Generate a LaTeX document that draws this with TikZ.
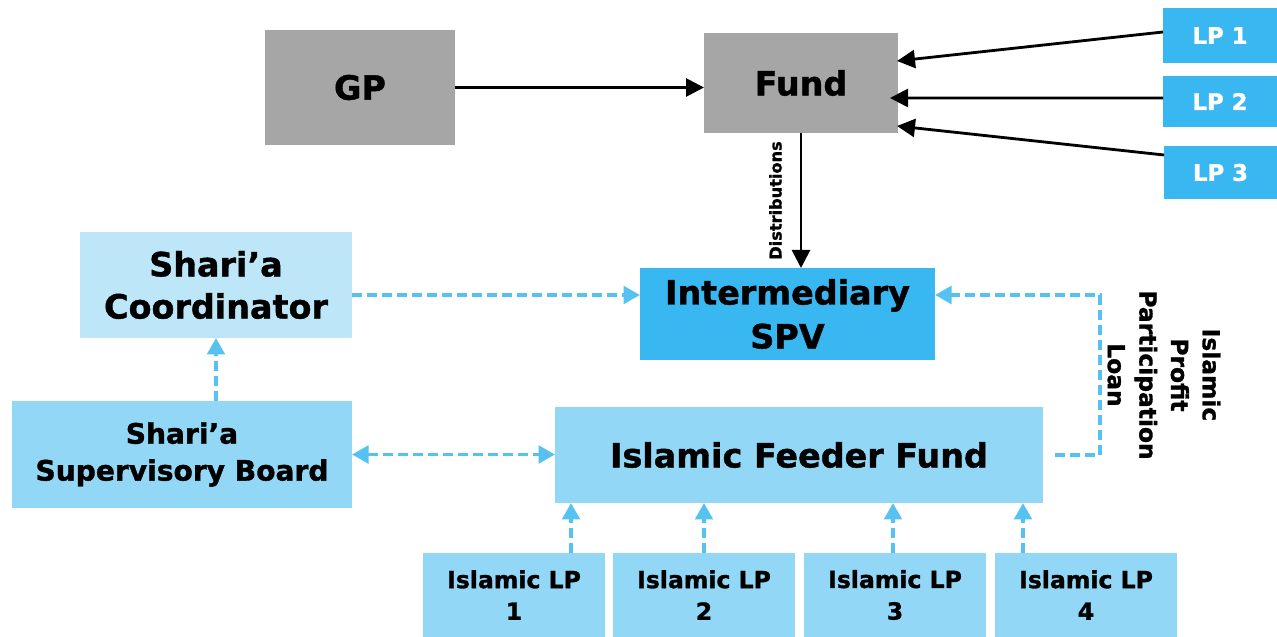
\documentclass[tikz,border=0pt]{standalone}
\usepackage{fontspec}
\setmainfont[BoldFeatures={FakeBold=1.2}]{DejaVu Sans}
\usetikzlibrary{arrows.meta}

\definecolor{boxgray}{HTML}{A6A6A6}
\definecolor{deepblue}{HTML}{38B7F0}
\definecolor{paleblue}{HTML}{BDE7F8}
\definecolor{midblue}{HTML}{92D8F6}
\definecolor{linkblue}{HTML}{56C2F2}

\begin{document}
\begin{tikzpicture}[
		box/.style={inner sep=0pt, outer sep=0pt, align=center, font=\bfseries},
		flow/.style={line width=1.6pt, -{Triangle[length=0.36cm, width=0.36cm]}},
		link/.style={line width=2.2pt, linkblue, dash pattern=on 0.2cm off 0.1cm,
			-{Triangle[length=0.33cm, width=0.35cm]}}
	]
		\useasboundingbox (0,0) rectangle (25.54,-12.74);

		\node[box, fill=boxgray, minimum width=3.8cm, minimum height=2.3cm,
			font=\bfseries\fontsize{19}{23}\selectfont] (gp) at (7.2,-1.75) {GP};
		\node[box, fill=boxgray, minimum width=3.88cm, minimum height=2cm,
			font=\bfseries\fontsize{19}{23}\selectfont] (fund) at (16.02,-1.66) {Fund};

		\node[box, fill=deepblue, text=white, minimum width=2.28cm, minimum height=1.1cm,
			font=\bfseries\fontsize{13}{16}\selectfont] (lpa) at (24.4,-0.71) {LP 1};
		\node[box, fill=deepblue, text=white, minimum width=2.28cm, minimum height=1.02cm,
			font=\bfseries\fontsize{13}{16}\selectfont] (lpb) at (24.4,-2.03) {LP 2};
		\node[box, fill=deepblue, text=white, minimum width=2.26cm, minimum height=1.06cm,
			font=\bfseries\fontsize{13}{16}\selectfont] (lpc) at (24.41,-3.45) {LP 3};

		\node[box, fill=paleblue, minimum width=5.44cm, minimum height=2.12cm,
			font=\bfseries\fontsize{19}{24}\selectfont] (coord) at (4.32,-5.7) {Shari’a\\Coordinator};
		\node[box, fill=deepblue, minimum width=5.9cm, minimum height=1.84cm,
			font=\bfseries\fontsize{19}{25}\selectfont] (spv) at (15.75,-6.28) {Intermediary\\SPV};

		\node[box, fill=midblue, minimum width=6.8cm, minimum height=2.14cm,
			font=\bfseries\fontsize{16}{21}\selectfont] (board) at (3.64,-9.09) {Shari’a\\Supervisory Board};
		\node[box, fill=midblue, minimum width=9.76cm, minimum height=1.92cm,
			font=\bfseries\fontsize{19}{23}\selectfont] (feeder) at (15.98,-9.1) {Islamic Feeder Fund};

		\node[box, fill=midblue, minimum width=3.64cm, minimum height=1.68cm,
			font=\bfseries\fontsize{13.4}{18}\selectfont] (ilpa) at (10.28,-11.9) {Islamic LP\\1};
		\node[box, fill=midblue, minimum width=3.64cm, minimum height=1.68cm,
			font=\bfseries\fontsize{13.4}{18}\selectfont] (ilpb) at (14.08,-11.9) {Islamic LP\\2};
		\node[box, fill=midblue, minimum width=3.64cm, minimum height=1.68cm,
			font=\bfseries\fontsize{13.4}{18}\selectfont] (ilpc) at (17.9,-11.9) {Islamic LP\\3};
		\node[box, fill=midblue, minimum width=3.64cm, minimum height=1.68cm,
			font=\bfseries\fontsize{13.4}{18}\selectfont] (ilpd) at (21.72,-11.9) {Islamic LP\\4};

		\node[box, rotate=-90, font=\bfseries\fontsize{13.3}{18}\selectfont] (loan) at (23.28,-7.5)
			{Islamic\\Profit\\Participation\\Loan};

		\draw[flow] (gp.east) -- (gp.east -| fund.west);
		\draw[flow] ([yshift=0.07cm]lpa.west) -- ([xshift=-0.02cm,yshift=0.44cm]fund.east);
		\draw[flow] ([yshift=0.07cm]lpb.west) -- ([xshift=-0.16cm,yshift=-0.3cm]fund.east);
		\draw[flow] ([yshift=0.35cm]lpc.west) -- ([xshift=-0.02cm,yshift=-0.86cm]fund.east);
		\draw[flow] (fund.south) -- (fund.south |- spv.north)
			node[midway, rotate=90, anchor=south, yshift=0.24cm,
				font=\bfseries\fontsize{9.2}{11}\selectfont] {Distributions};

		\draw[link] ([yshift=-0.2cm]coord.east) -- ([yshift=-0.2cm]coord.east -| spv.west);
		\draw[link] (board.north -| coord.south) -- (coord.south);
		\draw[link, {Triangle[length=0.33cm, width=0.35cm]}-{Triangle[length=0.33cm, width=0.35cm]}]
			(board.east) -- (board.east -| feeder.west);
		\draw[link] ([xshift=0.24cm]feeder.east) -- ++(0.9,0) |- ([yshift=0.38cm]spv.east);

		\coordinate (ta) at ([xshift=1.14cm]ilpa.north);
		\coordinate (tb) at (ilpb.north);
		\coordinate (tc) at ([xshift=-0.04cm]ilpc.north);
		\coordinate (td) at ([xshift=-1.26cm]ilpd.north);
		\draw[link] (ta) -- (ta |- feeder.south);
		\draw[link] (tb) -- (tb |- feeder.south);
		\draw[link] (tc) -- (tc |- feeder.south);
		\draw[link] (td) -- (td |- feeder.south);
	\end{tikzpicture}
\end{document}
